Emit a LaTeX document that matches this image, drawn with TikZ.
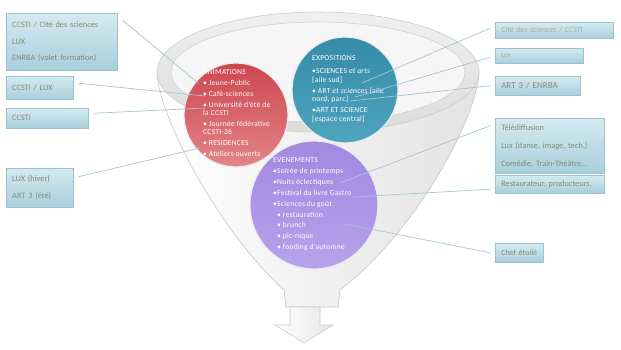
\documentclass[tikz,border=0pt]{standalone}
\usepackage{fontspec}
\setmainfont{Carlito}
\newfontfamily\spacedfont[LetterSpace=3]{Carlito}
\usetikzlibrary{shadows}
\definecolor{boxtop}{HTML}{D5EAF1}
\definecolor{boxbot}{HTML}{A7CFDC}
\definecolor{boxline}{HTML}{9DC2CF}
\definecolor{boxtext}{HTML}{858B72}
\definecolor{conncol}{HTML}{A6C5D0}
\definecolor{redtop}{HTML}{CE464F}
\definecolor{redbot}{HTML}{E2858A}
\definecolor{bluetop}{HTML}{358BA8}
\definecolor{bluebot}{HTML}{4FA5BE}
\definecolor{purtop}{HTML}{A388E0}
\definecolor{purbot}{HTML}{B7A2EB}
\tikzset{
  lbox/.style={draw=boxline, line width=0.5pt, top color=boxtop, bottom color=boxbot,
    anchor=north west, inner xsep=6pt, inner ysep=0pt, align=left,
    font=\fontsize{8.3}{10}\selectfont, text=boxtext,
    drop shadow={shadow xshift=0.6pt, shadow yshift=-1.2pt, opacity=0.45, fill=gray!70!black}},
  conn/.style={draw=conncol, line width=0.7pt},
  ball/.style={circle, draw=white!85!gray, line width=1.2pt, inner sep=0pt},
  ctext/.style={anchor=north west, align=left, text=white, inner sep=0pt},
}
\begin{document}
\begin{tikzpicture}[x=1pt,y=-1pt]
\useasboundingbox (0,0) rectangle (621,349);
\fill[white] (0,0) rectangle (621,349);

% funnel body
\path[draw=gray!45, line width=0.6pt, left color=white, right color=gray!22]
  (157,72) .. controls (158,115) and (218,230) .. (284,290) -- (286,307) -- (338,307) -- (340,290)
  .. controls (418,230) and (478,115) .. (479,72) -- cycle;
% arrow below
\path[draw=gray!40, line width=0.6pt, left color=white, right color=green!6!gray!20]
  (290,307) -- (320,307) -- (320,325) -- (333,325) -- (304,343) -- (275,325) -- (290,325) -- cycle;
% rim
\path[draw=gray!40, line width=0.6pt, top color=gray!12, bottom color=gray!28]
  (318,72) ellipse [x radius=161pt, y radius=60pt];
\path[draw=gray!35, line width=0.6pt, fill=gray!7]
  (318,72) ellipse [x radius=147pt, y radius=50pt];

% circles
\node[ball, minimum size=128pt, top color=purtop, bottom color=purbot] (eve) at (314,205) {};
\node[ball, minimum size=104pt, top color=redtop, bottom color=redbot] (ani) at (236,115) {};
\node[ball, minimum size=106pt, top color=bluetop, bottom color=bluebot] (exp) at (345,90) {};

% circle texts
\node[ctext, font=\spacedfont\fontsize{7.6}{8.4}\selectfont] (anitxt) at (203,69) {%
ANIMATIONS\\[2.6pt]
• Jeune-Public\\[2.6pt]
• Café-sciences\\[2.6pt]
• Université d’été de\\
la CCSTI\\[2.6pt]
• Journée fédérative\\
CCSTI-26\\[2.6pt]
• RESIDENCES\\[2.6pt]
• Ateliers ouverts};
\node[ctext, font=\spacedfont\fontsize{7.6}{8.6}\selectfont] (exptxt) at (312,55) {%
EXPOSITIONS\\[5pt]
•SCIENCES \textit{et arts}\\
{[}aile sud{]}\\[2.4pt]
• ART \textit{et sciences} {[}aile\\
nord, parc{]}\\[2.4pt]
•ART ET SCIENCE\\
{[}espace central{]}};
\node[ctext, font=\spacedfont\fontsize{7.6}{10.8}\selectfont] (evetxt) at (273,157) {%
EVENEMENTS\\[1pt]
•Soirée de printemps\\
•Nuits éclectiques\\
•Festival du livre Gastro\\
•Sciences du goût\\
\hspace{4pt}• restauration\\
\hspace{4pt}• brunch\\
\hspace{4pt}• pic-nique\\
\hspace{4pt}• fooding d’automne};

% anchor points of connectors
\coordinate (a1) at (198,83);
\coordinate (a2) at (205,96);
\coordinate (a3) at (205,108);
\coordinate (a4) at (200,148);
\coordinate (b1) at (362,83);
\coordinate (b2) at (355,97);
\coordinate (b3) at (350,101);
\coordinate (b4) at (340,183);
\coordinate (b5) at (353,197);
\coordinate (b6) at (345,224);

% left boxes
\node[lbox, text width=99pt, minimum height=57pt] (L1) at (6,13)
  {CCSTI / Cité des sciences\\[6.5pt] LUX\\[6.5pt] ENRBA (volet formation)};
\node[lbox, text width=55pt, minimum height=23pt] (L2) at (6,76) {CCSTI / LUX};
\node[lbox, text width=70pt, minimum height=20pt] (L3) at (6,108) {CCSTI};
\node[lbox, text width=55pt, minimum height=39pt] (L4) at (6,168)
  {LUX (hiver)\\[6.5pt] ART 3 (été)};

% right boxes
\node[lbox, text width=106pt, minimum height=16pt, text=boxtext!70, font=\fontsize{8}{10}\selectfont\itshape] (R1) at (495,22)
  {Cité des sciences / CCSTI};
\node[lbox, text width=76pt, minimum height=15pt, text=boxtext!70, font=\fontsize{7}{9}\selectfont] (R2) at (495,48) {Lux};
\node[lbox, text width=73pt, minimum height=19pt, font=\fontsize{9}{11}\selectfont] (R3) at (495,76) {ART 3 / ENRBA};
\node[lbox, text width=97pt, minimum height=55pt] (R4) at (495,118)
  {Télédiffusion\\[8pt] Lux (danse, image, tech.)\\[8pt] Comédie, Train-Théâtre…};
\node[lbox, text width=97pt, minimum height=18pt] (R5) at (495,175) {Restaurateur, producteurs,};
\node[lbox, text width=36pt, minimum height=19pt, font=\fontsize{8}{10}\selectfont] (R6) at (495,243) {Chef étoilé};

% connectors
\draw[conn] ([xshift=5pt,yshift=-7pt]L1.north east) -- (a1);
\draw[conn] ([xshift=5pt,yshift=4.5pt]L2.east) -- (a2);
\draw[conn] ([xshift=5pt,yshift=5pt]L3.east) -- (a3);
\draw[conn] ([xshift=5pt,yshift=11pt]L4.east) -- (a4);
\draw[conn] ([xshift=-5pt,yshift=2pt]R1.west) -- (b1);
\draw[conn] ([xshift=-5pt,yshift=-1.5pt]R2.west) -- (b2);
\draw[conn] ([xshift=-5pt]R3.west) -- (b3);
\draw[conn] ([xshift=-5pt,yshift=20pt]R4.west) -- (b4);
\draw[conn] ([xshift=-5pt,yshift=-5pt]R5.west) -- (b5);
\draw[conn] ([xshift=-5pt]R6.west) -- (b6);
\end{tikzpicture}
\end{document}
